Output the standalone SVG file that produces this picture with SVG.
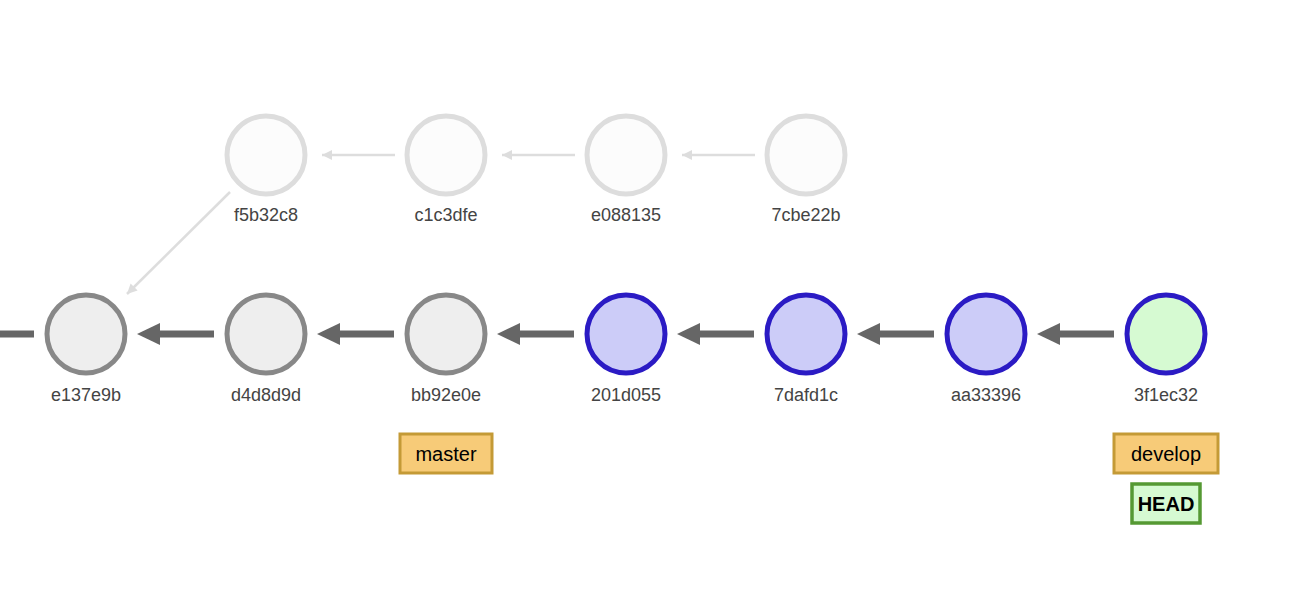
<svg xmlns="http://www.w3.org/2000/svg" width="1312" height="602" viewBox="0 0 1312 602">
<style>
text{font-family:"Liberation Sans",Arial,sans-serif}
.lbl{font-size:18px;fill:#444;text-anchor:middle}
.old{fill:#eee;stroke:#888;stroke-width:5}
.new{fill:#ccccf8;stroke:#2b1bc4;stroke-width:5}
.head{fill:#d6fad2;stroke:#2b1bc4;stroke-width:5}
.ghost{fill:#fcfcfc;stroke:#ddd;stroke-width:5}
.e{stroke:#666;stroke-width:7;fill:none}
.g{stroke:#ddd;stroke-width:2.5;fill:none}
.br{fill:#f7cb78;stroke:#c49a36;stroke-width:3}
.hd{fill:#d6fad2;stroke:#559933;stroke-width:3.5}
.bt{font-size:20px;fill:#000;text-anchor:middle}
</style>
<defs>
<marker id="ag" viewBox="0 0 10 10" refX="10" refY="5" markerWidth="5" markerHeight="4" orient="auto" markerUnits="strokeWidth"><path d="M0,0 L10,5 L0,10 Z" fill="#ddd"/></marker>
</defs>
<g id="connectors">
<line class="e" x1="0" y1="334" x2="34" y2="334"/>
<path class="e" d="M214,334 H158"/><path d="M137,334 L160,323 L160,345 Z" fill="#666"/>
<path class="e" d="M394,334 H338"/><path d="M317,334 L340,323 L340,345 Z" fill="#666"/>
<path class="e" d="M574,334 H518"/><path d="M497,334 L520,323 L520,345 Z" fill="#666"/>
<path class="e" d="M754,334 H698"/><path d="M677,334 L700,323 L700,345 Z" fill="#666"/>
<path class="e" d="M934,334 H878"/><path d="M857,334 L880,323 L880,345 Z" fill="#666"/>
<path class="e" d="M1114,334 H1058"/><path d="M1037,334 L1060,323 L1060,345 Z" fill="#666"/>
<line class="g" x1="395" y1="155" x2="322" y2="155" marker-end="url(#ag)"/>
<line class="g" x1="575" y1="155" x2="502" y2="155" marker-end="url(#ag)"/>
<line class="g" x1="755" y1="155" x2="682" y2="155" marker-end="url(#ag)"/>
<line class="g" x1="230" y1="192" x2="127" y2="294" marker-end="url(#ag)"/>
</g>
<g id="f5b32c8"><circle class="ghost" cx="266" cy="155" r="39"/><text class="lbl" x="266" y="221">f5b32c8</text></g>
<g id="c1c3dfe"><circle class="ghost" cx="446" cy="155" r="39"/><text class="lbl" x="446" y="221">c1c3dfe</text></g>
<g id="e088135"><circle class="ghost" cx="626" cy="155" r="39"/><text class="lbl" x="626" y="221">e088135</text></g>
<g id="7cbe22b"><circle class="ghost" cx="806" cy="155" r="39"/><text class="lbl" x="806" y="221">7cbe22b</text></g>
<g id="e137e9b"><circle class="old" cx="86" cy="334" r="39"/><text class="lbl" x="86" y="401">e137e9b</text></g>
<g id="d4d8d9d"><circle class="old" cx="266" cy="334" r="39"/><text class="lbl" x="266" y="401">d4d8d9d</text></g>
<g id="bb92e0e"><circle class="old" cx="446" cy="334" r="39"/><text class="lbl" x="446" y="401">bb92e0e</text></g>
<g id="201d055"><circle class="new" cx="626" cy="334" r="39"/><text class="lbl" x="626" y="401">201d055</text></g>
<g id="7dafd1c"><circle class="new" cx="806" cy="334" r="39"/><text class="lbl" x="806" y="401">7dafd1c</text></g>
<g id="aa33396"><circle class="new" cx="986" cy="334" r="39"/><text class="lbl" x="986" y="401">aa33396</text></g>
<g id="3f1ec32"><circle class="head" cx="1166" cy="334" r="39"/><text class="lbl" x="1166" y="401">3f1ec32</text></g>
<g id="master"><rect class="br" x="400" y="434" width="92" height="39"/><text class="bt" x="446" y="461">master</text></g>
<g id="develop"><rect class="br" x="1114" y="434" width="104" height="39"/><text class="bt" x="1166" y="461">develop</text></g>
<g id="HEAD"><rect class="hd" x="1132" y="484" width="68" height="39"/><text class="bt" x="1166" y="511" font-weight="bold">HEAD</text></g>
</svg>
